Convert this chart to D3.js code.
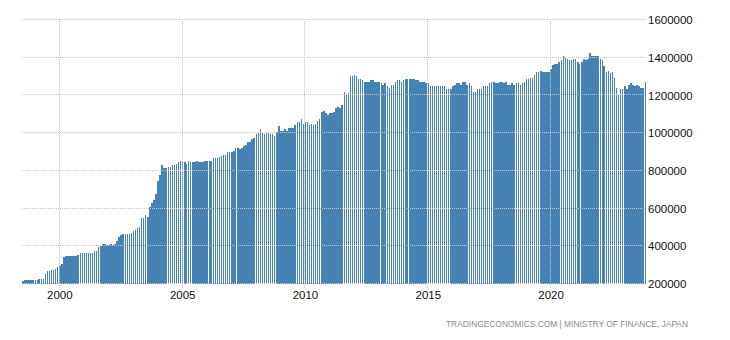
<!DOCTYPE html>
<html><head><meta charset="utf-8">
<script src="https://cdn.jsdelivr.net/npm/d3@7"></script>
<style>html,body{margin:0;padding:0;background:#fff}svg{display:block}</style>
</head><body>
<svg id="chart" width="730" height="340"></svg>
<script>
// Monthly foreign exchange reserves, Japan (USD million), Jul 1998 .. Nov 2023
const firstMonth = [1998, 6]; // year, zero-based month (July)
const reserves = [
  212000, 216000, 216000, 216000, 216000, 216000,
  221000, 221000, 226000, 226000, 226000, 248000, 264000, 264000, 274000, 274000, 278000, 290000,
  295000, 306000, 338000, 348000, 348000, 348000, 348000, 348000, 348000, 353000, 364000, 364000,
  364000, 364000, 364000, 364000, 364000, 371000, 375000, 396000, 398000, 407000, 407000, 402000,
  402000, 407000, 402000, 407000, 423000, 449000, 455000, 460000, 460000, 460000, 460000, 470000,
  481000, 486000, 495000, 502000, 545000, 545000, 561000, 555000, 608000, 629000, 645000, 672000,
  741000, 778000, 826000, 815000, 815000, 820000, 820000, 831000, 831000, 836000, 842000, 847000,
  842000, 842000, 836000, 847000, 842000, 842000, 842000, 847000, 842000, 842000, 842000, 847000,
  852000, 852000, 852000, 863000, 863000, 868000, 873000, 878000, 884000, 884000, 900000, 895000,
  895000, 905000, 916000, 916000, 911000, 916000, 927000, 932000, 948000, 953000, 965000, 972000,
  995000, 1006000, 1017000, 1006000, 995000, 1001000, 1006000, 995000, 995000, 980000, 1001000, 1033000,
  1011000, 1011000, 1017000, 1011000, 1022000, 1022000, 1022000, 1043000, 1054000, 1059000, 1075000, 1048000,
  1054000, 1054000, 1043000, 1048000, 1043000, 1048000, 1064000, 1070000, 1112000, 1117000, 1102000, 1096000,
  1102000, 1102000, 1112000, 1133000, 1138000, 1133000, 1149000, 1218000, 1202000, 1208000, 1303000, 1298000,
  1308000, 1303000, 1287000, 1287000, 1277000, 1271000, 1271000, 1271000, 1277000, 1277000, 1271000, 1266000,
  1266000, 1261000, 1255000, 1261000, 1250000, 1239000, 1255000, 1255000, 1271000, 1277000, 1277000, 1266000,
  1277000, 1287000, 1282000, 1282000, 1282000, 1282000, 1277000, 1277000, 1266000, 1266000, 1271000, 1261000,
  1261000, 1250000, 1245000, 1250000, 1245000, 1245000, 1245000, 1250000, 1245000, 1234000, 1234000, 1234000,
  1250000, 1255000, 1261000, 1261000, 1255000, 1266000, 1266000, 1255000, 1261000, 1245000, 1218000, 1218000,
  1234000, 1234000, 1229000, 1245000, 1250000, 1250000, 1261000, 1266000, 1266000, 1261000, 1261000, 1266000,
  1271000, 1261000, 1266000, 1255000, 1255000, 1261000, 1255000, 1261000, 1261000, 1255000, 1261000, 1271000,
  1282000, 1282000, 1292000, 1292000, 1308000, 1324000, 1319000, 1329000, 1324000, 1324000, 1319000, 1324000,
  1340000, 1361000, 1366000, 1366000, 1377000, 1383000, 1404000, 1398000, 1388000, 1383000, 1383000, 1393000,
  1393000, 1377000, 1366000, 1377000, 1388000, 1383000, 1388000, 1425000, 1409000, 1404000, 1404000, 1404000,
  1388000, 1383000, 1356000, 1324000, 1329000, 1314000, 1324000, 1292000, 1239000, 1197000, 1229000, 1229000,
  1250000, 1229000, 1255000, 1264000, 1255000, 1245000, 1255000, 1250000, 1239000, 1239000, 1271000
];
const yTicks = [200000, 400000, 600000, 800000, 1000000, 1200000, 1400000, 1600000];
const xTickYears = [2000, 2005, 2010, 2015, 2020];
const sourceText = "TRADINGECONOMICS.COM  |  MINISTRY OF FINANCE, JAPAN";

const svg = d3.select("#chart");
const start = new Date(firstMonth[0], firstMonth[1], 1);
const data = reserves.map((v, i) => ({ date: d3.timeMonth.offset(start, i), value: v }));

const x = d3.scaleTime()
  .domain([new Date(2000, 0, 1), new Date(2020, 0, 1)])
  .range([59.3, 550.6]);
const y = d3.scaleLinear().domain([200000, 1600000]).range([283.5, 19.5]);

const gridLeft = 22, gridRight = 645;
const barW = 1.5;
const base = Math.round(y(200000));
const left = d => Math.round(x(d.date) - barW / 2 + 0.5);
const right = d => Math.round(x(d.date) + barW / 2 + 0.5);

// bars (crisp, like column rendering)
svg.append("g").selectAll("rect").data(data).join("rect")
  .attr("x", left)
  .attr("width", d => right(d) - left(d))
  .attr("y", d => Math.round(y(d.value)))
  .attr("height", d => base - Math.round(y(d.value)))
  .attr("fill", "#4682b4")
  .attr("shape-rendering", "crispEdges");

// horizontal grid
const grid = svg.append("g").attr("stroke", "#c8c8c8").attr("stroke-dasharray", "1,1").attr("fill", "none");
grid.selectAll("line.h").data(yTicks).join("line").attr("class", "h")
  .attr("x1", gridLeft).attr("x2", gridRight)
  .attr("y1", d => Math.floor(y(d)) + 0.5).attr("y2", d => Math.floor(y(d)) + 0.5);
// vertical grid
grid.selectAll("line.v").data(xTickYears).join("line").attr("class", "v")
  .attr("x1", d => Math.floor(x(new Date(d, 0, 1))) + 0.5)
  .attr("x2", d => Math.floor(x(new Date(d, 0, 1))) + 0.5)
  .attr("y1", 19).attr("y2", 289);

// y axis (right)
const yAxis = d3.axisRight(y).tickValues(yTicks).tickSize(0).tickPadding(0).tickFormat(d3.format("d"));
const gy = svg.append("g").attr("transform", "translate(648,0)").call(yAxis);
gy.select(".domain").remove();
gy.selectAll("text").attr("font-family", "'Liberation Sans', Arial, sans-serif").attr("font-size", "11.5px").attr("fill", "#111").attr("dy", "0.36em");

// x axis
const xAxis = d3.axisBottom(x).tickValues(xTickYears.map(yr => new Date(yr, 0, 1))).tickSize(0).tickPadding(0).tickFormat(d3.timeFormat("%Y"));
const gx = svg.append("g").attr("transform", "translate(0,290)").call(xAxis);
gx.select(".domain").remove();
gx.selectAll("text").attr("font-family", "'Liberation Sans', Arial, sans-serif").attr("font-size", "11.5px").attr("fill", "#111").attr("dy", "0.76em");

// source
svg.append("text").attr("x", 688).attr("y", 327).attr("text-anchor", "end")
  .attr("font-family", "'Liberation Sans', Arial, sans-serif").attr("font-size", "9.5px").attr("fill", "#8a8a8a")
  .attr("textLength", 242).attr("lengthAdjust", "spacingAndGlyphs")
  .text(sourceText);
</script>
</body></html>
